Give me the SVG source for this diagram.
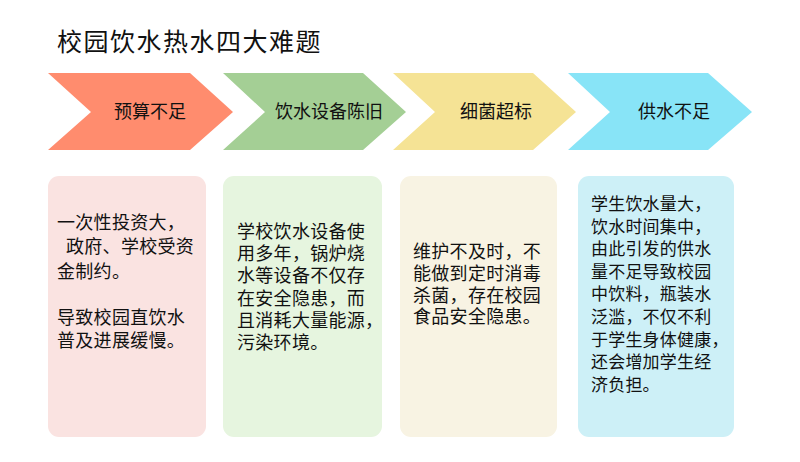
<svg xmlns="http://www.w3.org/2000/svg" width="800" height="462" viewBox="0 0 800 462">
<style>
text{font-family:"Noto Sans CJK SC","Noto Sans",sans-serif;fill:#111;}
.title{font-size:25px;letter-spacing:1.5px;}
.lab{font-size:18px;text-anchor:middle;}
.body{font-size:18px;letter-spacing:0.3px;}
.body4{font-size:17px;letter-spacing:0.2px;}
</style>
<rect width="800" height="462" fill="#ffffff"/>
<text class="title" x="57" y="51">校园饮水热水四大难题</text>
<g id="step1">
<polygon points="48,73 190,73 233,112 190,150 48,150 91,112" fill="#FF8C6E"/>
<text class="lab" x="150" y="118">预算不足</text>
</g>
<g id="step2">
<polygon points="223,73 363,73 406,112 363,150 223,150 265,112" fill="#A4CF95"/>
<text class="lab" x="329" y="118">饮水设备陈旧</text>
</g>
<g id="step3">
<polygon points="393,73 533,73 576,112 533,150 393,150 435,112" fill="#F5E395"/>
<text class="lab" x="496" y="118">细菌超标</text>
</g>
<g id="step4">
<polygon points="568,73 708,73 752,112 708,150 568,150 610,112" fill="#88E4F7"/>
<text class="lab" x="674" y="118">供水不足</text>
</g>
<g id="box1">
<rect x="48" y="176" width="158" height="261" rx="11" fill="#FAE3E1"/>
<text class="body"><tspan x="57" y="229">一次性投资大，</tspan><tspan x="66" y="253">政府、学校受资</tspan><tspan x="57" y="278">金制约。</tspan><tspan x="57" y="324">导致校园直饮水</tspan><tspan x="57" y="347">普及进展缓慢。</tspan></text>
</g>
<g id="box2">
<rect x="223" y="176" width="159" height="261" rx="11" fill="#E6F5DF"/>
<text class="body"><tspan x="237" y="238">学校饮水设备使</tspan><tspan x="237" y="260">用多年，锅炉烧</tspan><tspan x="237" y="282">水等设备不仅存</tspan><tspan x="237" y="305">在安全隐患，而</tspan><tspan x="237" y="327">且消耗大量能源，</tspan><tspan x="237" y="349">污染环境。</tspan></text>
</g>
<g id="box3">
<rect x="400" y="176" width="157" height="261" rx="11" fill="#F8F3E3"/>
<text class="body"><tspan x="413" y="258">维护不及时，不</tspan><tspan x="413" y="280">能做到定时消毒</tspan><tspan x="413" y="302">杀菌，存在校园</tspan><tspan x="413" y="323">食品安全隐患。</tspan></text>
</g>
<g id="box4">
<rect x="578" y="176" width="156" height="261" rx="11" fill="#CDF0F7"/>
<text class="body4"><tspan x="591" y="210">学生饮水量大，</tspan><tspan x="591" y="233">饮水时间集中，</tspan><tspan x="591" y="255">由此引发的供水</tspan><tspan x="591" y="278">量不足导致校园</tspan><tspan x="591" y="300">中饮料，瓶装水</tspan><tspan x="591" y="323">泛滥，不仅不利</tspan><tspan x="591" y="346">于学生身体健康，</tspan><tspan x="591" y="368">还会增加学生经</tspan><tspan x="591" y="391">济负担。</tspan></text>
</g>
<g id="connectors"></g>
</svg>
